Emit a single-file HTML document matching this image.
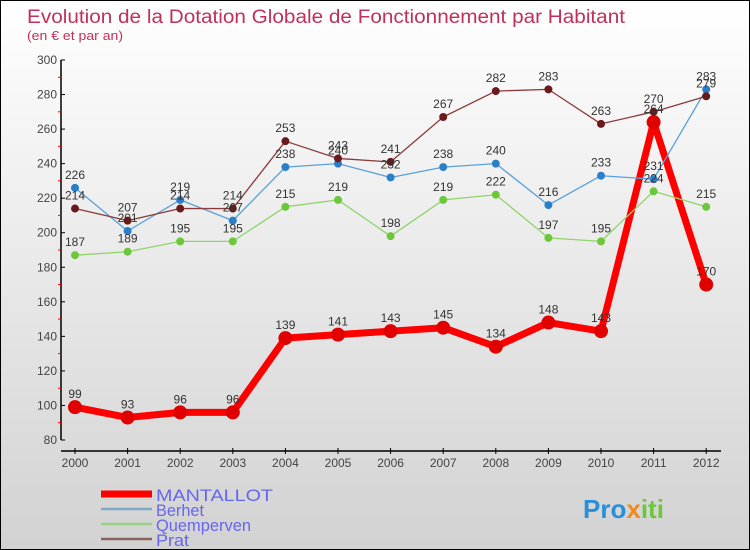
<!DOCTYPE html>
<html><head><meta charset="utf-8"><style>
body{margin:0}
#c{width:748px;height:548px;border:1px solid #000;background:linear-gradient(#ffffff,#d2d2d2);position:relative;font-family:"Liberation Sans",sans-serif}
svg{position:absolute;left:0;top:0}
</style></head><body>
<div id="c">
<svg id="s" width="748" height="548">
<text x="26" y="22" font-size="19" fill="#c0305a" textLength="598" lengthAdjust="spacingAndGlyphs">Evolution de la Dotation Globale de Fonctionnement par Habitant</text>
<text x="26" y="39" font-size="13" fill="#c0305a" textLength="96" lengthAdjust="spacingAndGlyphs">(en € et par an)</text>
</svg></div>
<script>
const years=["2000","2001","2002","2003","2004","2005","2006","2007","2008","2009","2010","2011","2012"];
const mantallot=[99,93,96,96,139,141,143,145,134,148,143,264,170];
const berhet=[226,201,219,207,238,240,232,238,240,216,233,231,283];
const quemperven=[187,189,195,195,215,219,198,219,222,197,195,224,215];
const prat=[214,207,214,214,253,243,241,267,282,283,263,270,279];
const yTicks=[80,100,120,140,160,180,200,220,240,260,280,300];
const svg=document.getElementById('s');const NS="http://www.w3.org/2000/svg";
function X(i){return 74+i*52.6;}
function Y(v){return 439-(v-80)*380/220;}
function mk(t,a,p){const e=document.createElementNS(NS,t);for(const k in a)e.setAttribute(k,a[k]);(p||svg).appendChild(e);return e;}
const ax=mk('g',{});


mk('line',{x1:60,y1:59,x2:60,y2:439,stroke:'#000','stroke-width':1.5},ax);
mk('line',{x1:60,y1:450,x2:720,y2:450,stroke:'#000','stroke-width':1.5},ax);
yTicks.forEach((v,i)=>{const y=Y(v);mk('line',{x1:60,y1:y,x2:64,y2:y,stroke:'#000'},ax);
 if(i<yTicks.length-1)mk('line',{x1:57,y1:y-17.3,x2:60,y2:y-17.3,stroke:'#f00'},ax);
 const t=mk('text',{x:56,y:y+4,'text-anchor':'end','font-size':12,fill:'#444'},ax);t.textContent=v;
 
 });
years.forEach((yr,i)=>{const x=X(i);mk('line',{x1:x,y1:447,x2:x,y2:453,stroke:'#000'},ax);
 const t=mk('text',{x:x,y:466,'text-anchor':'middle','font-size':12,fill:'#444'},ax);t.textContent=yr;
 
 });
const series=[["mantallot",mantallot,"#f00","#e00000",7,7],["berhet",berhet,"#5aa0d8","#2a7fc8",1.3,4],["quemperven",quemperven,"#8fd46a","#6cc83a",1.3,4],["prat",prat,"#8b3a3a","#6a1a1a",1.3,4]];
const labels=[];
series.forEach(([n,d,c,mc,w,r])=>{const g=mk('g',{});
 
 
 mk('polyline',{points:d.map((v,i)=>X(i)+','+Y(v)).join(' '),fill:'none',stroke:c,'stroke-width':w,'stroke-linejoin':'round'},g);
 d.forEach((v,i)=>{const p=mk('circle',{cx:X(i),cy:Y(v),r:r,fill:mc},g);
  
  
  labels.push([X(i),Y(v)-9,v]);});});
labels.forEach(([x,y,v])=>{const t=mk('text',{x:x,y:y,'text-anchor':'middle','font-size':12,fill:'#333'});t.textContent=v;
 
 });
const lg=[["MANTALLOT","#f00",7,117],["Berhet","#7fa8c8",2.5,48],["Quemperven","#9ad080",2.5,95],["Prat","#8a6060",2.5,33]];
lg.forEach(([n,c,w,tl],i)=>{const y=493+i*15;const g=mk('g',{});
 
 
 mk('line',{x1:100,y1:y,x2:151,y2:y,stroke:c,'stroke-width':w},g);
 const t=mk('text',{x:155,y:y+7,'font-size':17,fill:'#6666ee',textLength:tl,lengthAdjust:'spacingAndGlyphs'},g);t.textContent=n;});
const lo=mk('text',{x:582,y:517,'font-size':26,'font-weight':'bold',fill:'#2a8fd8'});


lo.innerHTML='Pro<tspan fill="#f08a1a">x</tspan><tspan fill="#6cc83a">iti</tspan>';
</script>
</body></html>
